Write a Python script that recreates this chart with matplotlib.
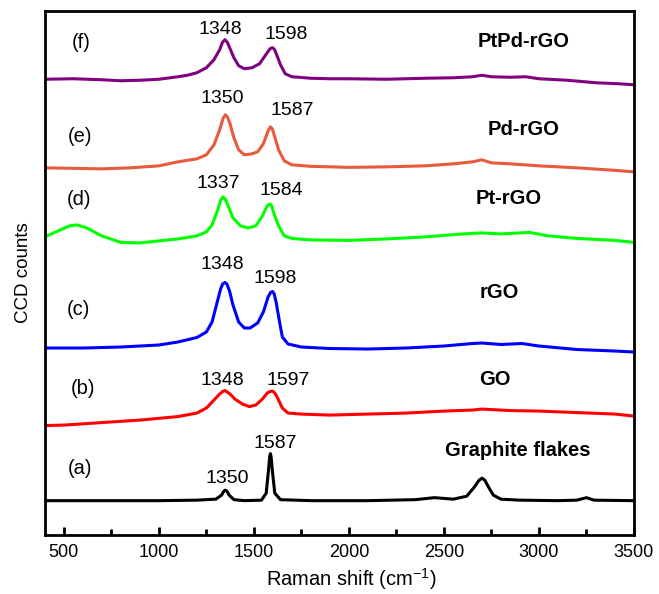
import matplotlib.pyplot as plt
from matplotlib.ticker import MultipleLocator

plt.rcParams['font.family'] = ['Liberation Sans', 'DejaVu Sans']
plt.rcParams['mathtext.fontset'] = 'custom'
plt.rcParams['mathtext.rm'] = 'Liberation Sans'
plt.rcParams['mathtext.it'] = 'Liberation Sans:italic'

# Raman spectra, stacked with offsets (arbitrary CCD count units)
x_a = [400, 700, 1000, 1200, 1300, 1330, 1342, 1350, 1358, 1370, 1395, 1450, 1540, 1565,
       1577, 1583, 1587, 1591, 1597, 1610, 1640, 1800, 2100, 2350, 2450, 2550, 2620,
       2660, 2683, 2700, 2715, 2735, 2760, 2800, 2900, 3100, 3200, 3250, 3290, 3500]
y_a = [34.5, 34.5, 34.5, 35, 36, 40, 44, 45, 44, 40, 35.5, 34.5, 35, 42,
       65, 78, 81.5, 78, 65, 42, 35.5, 34.5, 34.5, 35.5, 37.5, 36, 39,
       48, 54.5, 57, 55, 48, 40, 36, 35, 34.5, 35, 37.5, 35, 34.5]

x_b = [400, 500, 700, 900, 1100, 1200, 1250, 1290, 1320, 1335, 1348, 1360, 1375, 1400,
       1440, 1476, 1510, 1545, 1570, 1585, 1597, 1608, 1620, 1650, 1680, 1750, 1900,
       2100, 2300, 2500, 2650, 2700, 2850, 3000, 3200, 3400, 3500]
y_b = [109.5, 110, 112.5, 115, 118.5, 122, 127, 135, 141, 143.5, 144.5, 143, 141, 136,
       131, 128.5, 130, 136, 142, 143.5, 144, 142.5, 139, 127, 122, 121, 120,
       121, 122, 124, 125, 126, 124.5, 124, 122.5, 121, 119]

x_c = [400, 600, 800, 1000, 1100, 1200, 1250, 1280, 1310, 1325, 1336, 1348, 1358, 1372,
       1390, 1420, 1450, 1480, 1520, 1550, 1575, 1588, 1598, 1607, 1618, 1635, 1650,
       1680, 1750, 1900, 2100, 2300, 2500, 2650, 2700, 2800, 2910, 3000, 3200, 3400,
       3500]
y_c = [187, 187, 188, 190, 193, 197.5, 203, 213, 235, 246, 251, 252.5, 251, 244,
       230, 213, 207, 207, 212, 223, 238, 242.5, 243.5, 241, 232, 213, 198,
       191, 188, 186.5, 186, 187, 189, 191.5, 192, 190.5, 191.5, 189, 185.5, 184,
       183]

x_d = [400, 470, 530, 570, 620, 700, 800, 900, 1000, 1100, 1200, 1250, 1280, 1310,
       1325, 1337, 1348, 1365, 1390, 1430, 1470, 1510, 1545, 1570, 1584, 1594, 1608,
       1630, 1660, 1700, 1800, 2000, 2200, 2400, 2600, 2700, 2800, 2950, 3050, 3200,
       3400, 3500]
y_d = [298, 304, 309, 310, 307, 299, 292.5, 292, 294, 296, 299, 303, 310, 325,
       334.5, 338, 336, 329, 317, 309, 307, 309, 319, 329, 331, 329, 320,
       309, 299, 296.5, 295, 294.5, 296, 298, 301, 302, 301, 302.5, 299, 296.5,
       294.5, 292.5]

x_e = [400, 550, 700, 850, 1000, 1100, 1200, 1250, 1290, 1320, 1338, 1350, 1360, 1375,
       1395, 1420, 1450, 1490, 1520, 1550, 1575, 1587, 1597, 1610, 1630, 1660, 1700,
       1800, 2000, 2200, 2400, 2550, 2650, 2700, 2750, 2850, 3000, 3200, 3400, 3500]
y_e = [367, 366.5, 366, 367, 369, 373, 376, 380, 390, 405, 416.5, 420, 418, 411,
       397, 385, 380, 381, 383, 391, 404, 408, 406, 398, 385, 374, 370,
       368.5, 367.5, 368, 369, 371, 373, 375, 372, 371, 369, 367, 364.5, 363]

x_f = [400, 550, 700, 800, 900, 1000, 1100, 1150, 1200, 1250, 1290, 1320, 1335, 1348,
       1360, 1375, 1395, 1420, 1450, 1490, 1530, 1570, 1585, 1598, 1608, 1620, 1640,
       1665, 1700, 1800, 1900, 2000, 2200, 2400, 2550, 2650, 2700, 2750, 2850, 2930,
       3000, 3150, 3300, 3420, 3500]
y_f = [455.5, 456, 455, 454, 454.5, 455.5, 458, 459.5, 462, 467, 475, 485, 492.5, 495,
       492.5, 486, 477, 469, 466, 467, 471, 482, 486, 487, 485.5, 480, 470,
       461, 458, 456.5, 456, 456, 455.5, 456.5, 457, 458, 459.5, 458, 457.5, 458,
       456, 454.5, 452, 451, 450]

spectra = [
    (x_a, y_a, 'black'),
    (x_b, y_b, '#ff0000'),
    (x_c, y_c, '#0000ff'),
    (x_d, y_d, '#00ff00'),
    (x_e, y_e, '#e85a3c'),
    (x_f, y_f, '#800080'),
]

# panel letters and sample names
letters = ['(a)', '(b)', '(c)', '(d)', '(e)', '(f)']
letter_x = [584, 600, 579, 582, 584, 589]
letter_y = [67, 147, 225, 335, 398, 492]

samples = ['Graphite flakes', 'GO', 'rGO', 'Pt-rGO', 'Pd-rGO', 'PtPd-rGO']
sample_x = [2889, 2768, 2792, 2840, 2918, 2921]
sample_y = [85, 156, 242, 336, 405, 493]

# peak positions written above each spectrum
peak_text = ['1350', '1587', '1348', '1597', '1348', '1598',
             '1337', '1584', '1350', '1587', '1348', '1598']
peak_tx = [1358, 1610, 1332, 1683, 1332, 1610,
           1311, 1647, 1332, 1700, 1326, 1668]
peak_ty = [57, 92, 155, 155, 270, 256, 351, 344, 436, 424, 505, 500]

fig = plt.figure(figsize=(6.59, 5.94), dpi=100)
ax = fig.add_axes([0.068, 0.099, 0.894, 0.883])

for xs, ys, c in spectra:
    ax.plot(xs, ys, color=c, lw=2.2, solid_joinstyle='round')

for t, x, y in zip(letters, letter_x, letter_y):
    ax.text(x, y, t, fontsize=14.5, ha='center', va='center')
for t, x, y in zip(samples, sample_x, sample_y):
    ax.text(x, y, t, fontsize=14.5, fontweight='bold', ha='center', va='center')
for t, x, y in zip(peak_text, peak_tx, peak_ty):
    ax.text(x, y, t, fontsize=14, ha='center', va='center')

ax.set_xlim(400, 3500)
ax.set_ylim(0, 524)
ax.xaxis.set_major_locator(MultipleLocator(500))
ax.xaxis.set_minor_locator(MultipleLocator(250))
ax.tick_params(axis='x', which='major', direction='in', length=6, width=2,
               labelsize=13, pad=6, top=False)
ax.tick_params(axis='x', which='minor', direction='in', length=4, width=2, top=False)
ax.set_yticks([])
for s in ax.spines.values():
    s.set_linewidth(2)

ax.set_xlabel(r'Raman shift (cm$^{-1}$)', fontsize=14.5)
ax.xaxis.set_label_coords(0.52, -0.058)
ax.set_ylabel('CCD counts', fontsize=13.5, labelpad=9)

fig.savefig('out.png', dpi=100)
